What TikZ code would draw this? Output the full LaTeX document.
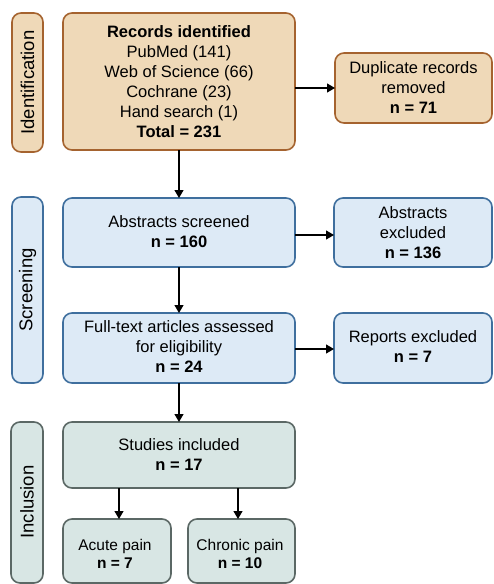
\documentclass[tikz,border=0pt]{standalone}
\usepackage{fontspec}
\setmainfont{Liberation Sans}
\usetikzlibrary{arrows.meta}
\definecolor{tanfill}{HTML}{EFD9B8}
\definecolor{tanline}{HTML}{A5632F}
\definecolor{bluefill}{HTML}{DDEAF6}
\definecolor{blueline}{HTML}{3F6F9E}
\definecolor{grnfill}{HTML}{D8E6E4}
\definecolor{grnline}{HTML}{5B6865}
\begin{document}
\begin{tikzpicture}[x=1pt,y=-1pt,
  box/.style={rounded corners=9pt,line width=1.6pt},
  tanbox/.style={box,draw=tanline,fill=tanfill},
  bluebox/.style={box,draw=blueline,fill=bluefill},
  grnbox/.style={box,draw=grnline,fill=grnfill},
  txt/.style={align=center,font=\fontsize{16.5}{20}\selectfont,inner sep=0pt},
  small/.style={font=\fontsize{15.5}{18}\selectfont},
  side/.style={font=\fontsize{18.5}{22}\selectfont,rotate=90,inner sep=0pt},
  arr/.style={-{Triangle[length=8pt,width=9pt]},line width=1.2pt,black}]
\useasboundingbox (0,0) rectangle (494,584);
% sidebars
\draw[tanbox] (12,13) rectangle (43,152);
\node[side] (sid) at (27.5,82.5) {Identification};
\draw[bluebox] (12,197) rectangle (43,383);
\node[side] (sscr) at (27.5,290) {Screening};
\draw[grnbox] (11,422) rectangle (43,583);
\node[side] (sinc) at (27,502) {Inclusion};
% boxes
\draw[tanbox] (63,13) rectangle (295,150);
\node[txt] (rec) at (179,82) {\textbf{Records identified}\\PubMed (141)\\Web of Science (66)\\Cochrane (23)\\Hand search (1)\\\textbf{Total = 231}};
\coordinate (recT) at (179,13); \coordinate (recB) at (179,150); \coordinate (recR) at (295,88);
\draw[tanbox] (335,53) rectangle (492,123);
\node[txt] (dup) at (413.5,88) {Duplicate records\\removed\\\textbf{n = 71}};
\coordinate (dupL) at (335,88);

\draw[bluebox] (63,198) rectangle (295,267);
\node[txt] (abs) at (179,232) {Abstracts screened\\\textbf{n = 160}};
\coordinate (absT) at (179,198); \coordinate (absB) at (179,267); \coordinate (absR) at (295,235);
\draw[bluebox] (334,198) rectangle (492,267);
\node[txt] (absx) at (413,233) {Abstracts\\excluded\\\textbf{n = 136}};
\coordinate (absxL) at (334,235);

\draw[bluebox] (63,313) rectangle (295,383);
\node[txt] (full) at (179,347) {Full-text articles assessed\\for eligibility\\\textbf{n = 24}};
\coordinate (fullT) at (179,313); \coordinate (fullB) at (179,383); \coordinate (fullR) at (295,349);
\draw[bluebox] (334,313) rectangle (492,383);
\node[txt] (rep) at (413,347) {Reports excluded\\\textbf{n = 7}};
\coordinate (repL) at (334,349);

\draw[grnbox] (63,422) rectangle (295,488);
\node[txt] (stu) at (179,455) {Studies included\\\textbf{n = 17}};
\coordinate (stuT) at (179,422);
\coordinate (stuB1) at (119,488); \coordinate (stuB2) at (238,488);
\draw[grnbox] (63,519) rectangle (171,583);
\node[txt,small] (acu) at (115,554) {Acute pain\\\textbf{n = 7}};
\coordinate (acuT) at (119,519);
\draw[grnbox] (188,519) rectangle (295,583);
\node[txt,small] (chr) at (240,554) {Chronic pain\\\textbf{n = 10}};
\coordinate (chrT) at (238,519);

% arrows
\draw[arr] (recR) -- (dupL);
\draw[arr] (recB) -- (absT);
\draw[arr] (absR) -- (absxL);
\draw[arr] (absB) -- (fullT);
\draw[arr] (fullR) -- (repL);
\draw[arr] (fullB) -- (stuT);
\draw[arr] (stuB1) -- (acuT);
\draw[arr] (stuB2) -- (chrT);
\end{tikzpicture}
\end{document}
